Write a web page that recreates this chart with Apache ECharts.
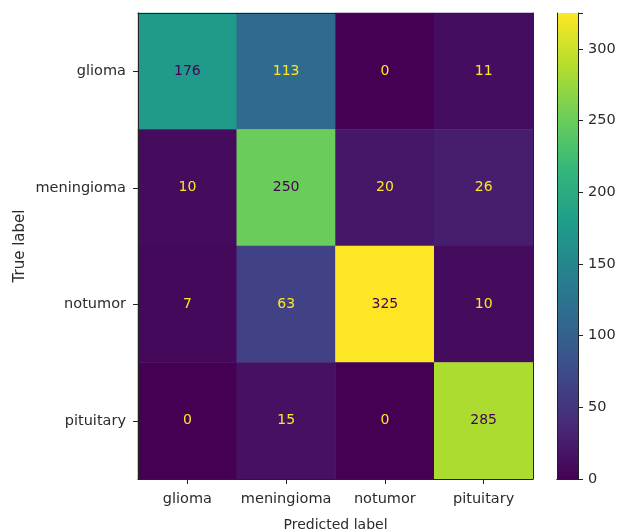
<!DOCTYPE html>
<html>
<head>
<meta charset="utf-8">
<script src="https://cdn.jsdelivr.net/npm/echarts@6/dist/echarts.min.js"></script>
<style>
  html, body { margin: 0; padding: 0; background: #fff; }
  #chart { width: 618px; height: 532px; }
</style>
</head>
<body>
<div id="chart"></div>
<script>
// class names (rows = true label, columns = predicted label)
const classes = ['glioma', 'meningioma', 'notumor', 'pituitary'];

// confusion matrix rows
const gliomaRow = [176, 113, 0, 11];
const meningiomaRow = [10, 250, 20, 26];
const notumorRow = [7, 63, 325, 10];
const pituitaryRow = [0, 15, 0, 285];
const matrix = [gliomaRow, meningiomaRow, notumorRow, pituitaryRow];

// colorbar range and ticks
const colorMin = 0;
const colorMax = 325;
const colorTicks = [0, 50, 100, 150, 200, 250, 300];

// viridis stops
const viridis = ['#440154', '#482878', '#3e4989', '#31688e', '#26828e',
  '#1f9e89', '#35b779', '#6ece58', '#b5de2b', '#fde725'];

const font = 'DejaVu Sans';
const textColor = '#2b2b2b';

const chart = echarts.init(document.getElementById('chart'));

// matplotlib flips the text colour at the middle of the colour range
const threshold = (colorMin + colorMax) / 2;
const cells = [];
matrix.forEach((row, r) => {
  row.forEach((v, c) => {
    cells.push({
      value: [c, r, v],
      label: { color: v > threshold ? viridis[0] : viridis[viridis.length - 1] }
    });
  });
});

// gradient for the colorbar (bottom = min, top = max)
const barGradient = new echarts.graphic.LinearGradient(0, 1, 0, 0,
  viridis.map((c, i) => ({ offset: i / (viridis.length - 1), color: c })));

const frameLine = { show: true, lineStyle: { color: '#222', width: 1 } };
const hidden = { axisTick: { show: false }, axisLabel: { show: false }, splitLine: { show: false } };

const option = {
  backgroundColor: '#fff',
  textStyle: { fontFamily: font },
  grid: [
    { left: 138, top: 13, width: 395, height: 466, outerBoundsMode: 'none', containLabel: false },
    { left: 557, top: 13, width: 21, height: 466, outerBoundsMode: 'none', containLabel: false }
  ],
  xAxis: [
    {
      type: 'category', data: classes, gridIndex: 0, position: 'bottom',
      name: 'Predicted label', nameLocation: 'middle', nameGap: 39, nameMoveOverlap: false,
      nameTextStyle: { fontSize: 14, color: textColor, fontFamily: font },
      axisLine: frameLine,
      axisTick: { show: true, alignWithLabel: true, length: 5, lineStyle: { color: '#222' } },
      axisLabel: { fontSize: 14.5, color: textColor, margin: 13, interval: 0, fontFamily: font },
      splitLine: { show: false }, z: 10
    },
    Object.assign({
      type: 'category', data: classes, gridIndex: 0, position: 'top', axisLine: frameLine, z: 10
    }, hidden),
    Object.assign({
      type: 'category', data: [''], gridIndex: 1, position: 'bottom', axisLine: frameLine, z: 10
    }, hidden),
    Object.assign({
      type: 'category', data: [''], gridIndex: 1, position: 'top', axisLine: frameLine, z: 10
    }, hidden)
  ],
  yAxis: [
    {
      type: 'category', data: classes, gridIndex: 0, inverse: true, position: 'left',
      name: 'True label', nameLocation: 'middle', nameGap: 110, nameMoveOverlap: false,
      nameTextStyle: { fontSize: 15, color: textColor, fontFamily: font },
      axisLine: frameLine,
      axisTick: { show: true, alignWithLabel: true, length: 5, lineStyle: { color: '#222' } },
      axisLabel: { fontSize: 14.5, color: textColor, margin: 12, interval: 0, fontFamily: font },
      splitLine: { show: false }, z: 10
    },
    Object.assign({
      type: 'category', data: classes, gridIndex: 0, inverse: true, position: 'right',
      axisLine: frameLine, z: 10
    }, hidden),
    {
      type: 'value', gridIndex: 1, position: 'right', min: colorMin, max: colorMax, interval: 50,
      axisLine: frameLine,
      axisTick: { show: true, length: 5, lineStyle: { color: '#222' } },
      axisLabel: {
        fontSize: 14.5, color: textColor, margin: 10, fontFamily: font,
        formatter: v => (colorTicks.indexOf(v) >= 0 ? String(v) : '')
      },
      splitLine: { show: false }, z: 10
    },
    Object.assign({
      type: 'value', gridIndex: 1, position: 'left', min: colorMin, max: colorMax,
      axisLine: frameLine, z: 10
    }, hidden)
  ],
  visualMap: {
    show: false,
    type: 'continuous',
    min: colorMin, max: colorMax,
    dimension: 2, seriesIndex: 0,
    inRange: { color: viridis }
  },
  series: [
    {
      type: 'heatmap',
      xAxisIndex: 0, yAxisIndex: 0,
      data: cells,
      label: { show: true, fontSize: 14, fontFamily: font },
      itemStyle: { borderWidth: 0 },
      emphasis: { disabled: true },
      z: 2
    },
    {
      // colorbar
      type: 'bar',
      xAxisIndex: 2, yAxisIndex: 2,
      data: [colorMax],
      barWidth: '100%',
      itemStyle: { color: barGradient },
      emphasis: { disabled: true },
      silent: true,
      z: 2
    }
  ]
};

chart.setOption(option);
</script>
</body>
</html>
